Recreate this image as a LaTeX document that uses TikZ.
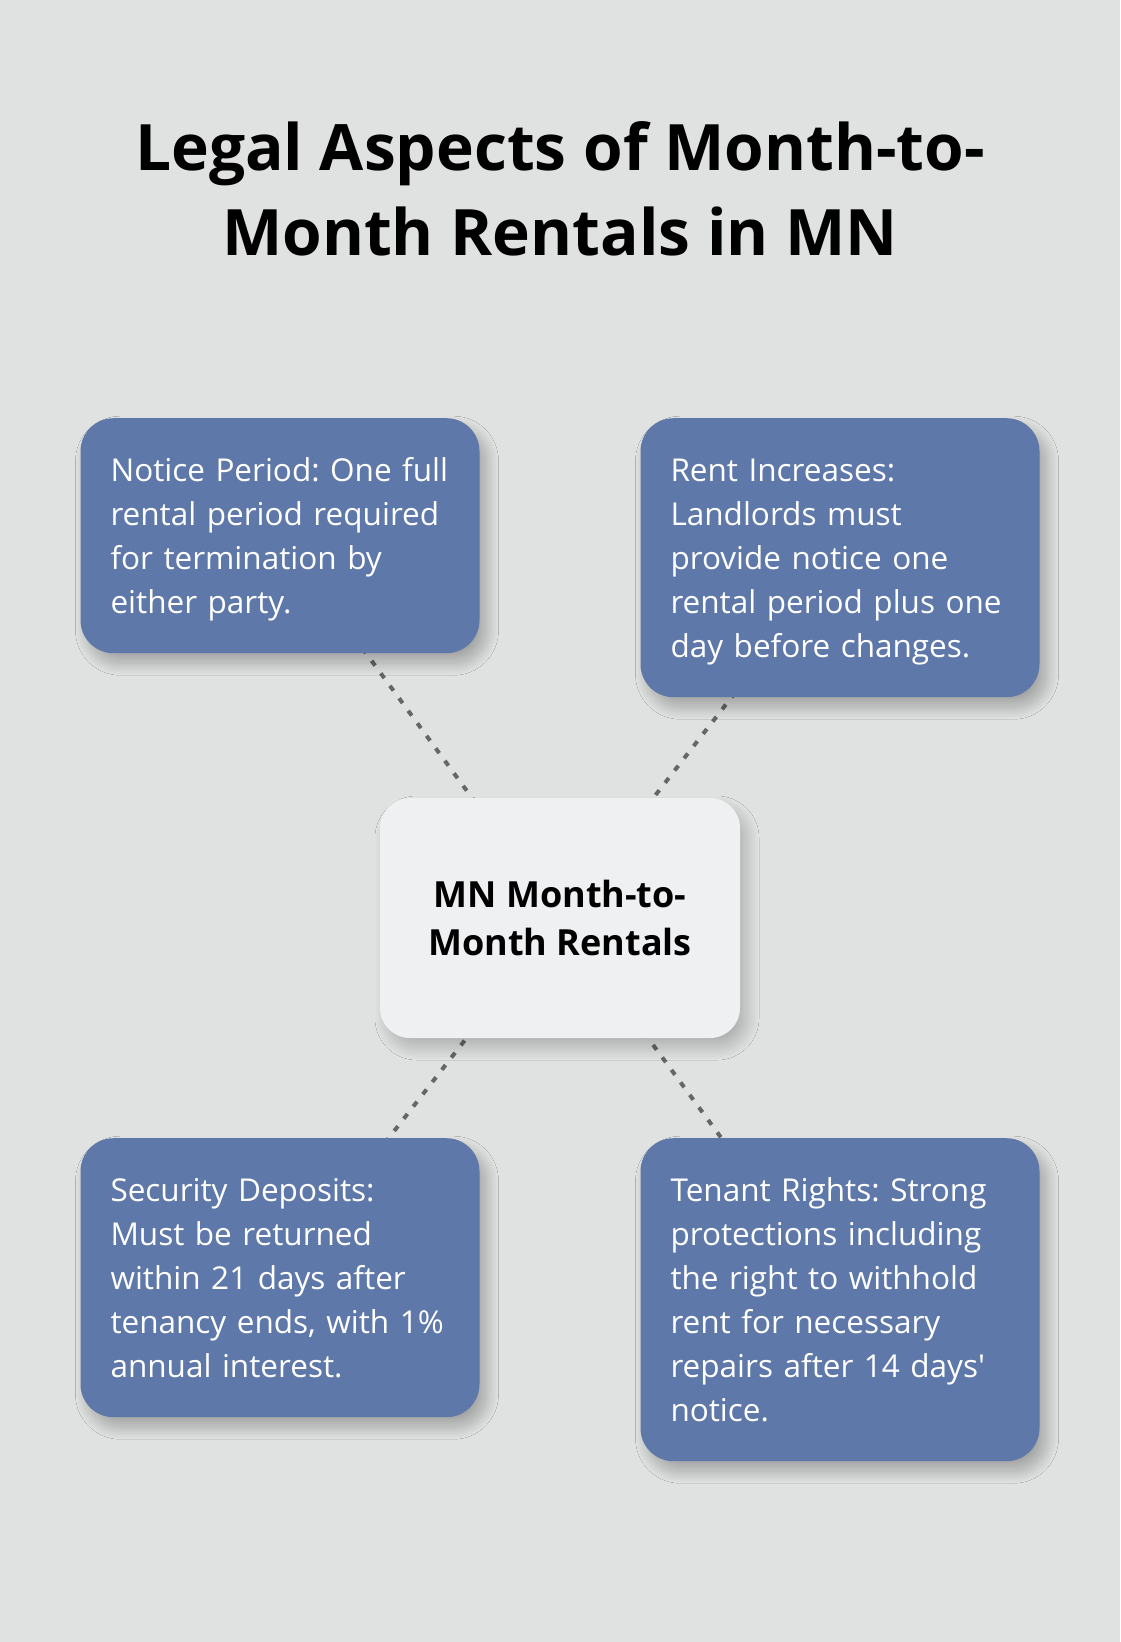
\documentclass[tikz,border=0pt]{standalone}
\usepackage{fontspec}
\setmainfont{Open Sans}
\usetikzlibrary{positioning,backgrounds,shadows.blur}

\definecolor{pagebg}{HTML}{E0E2E1}
\definecolor{cardblue}{HTML}{5E78A9}
\definecolor{hubfill}{HTML}{EFF0F2}
\definecolor{linkgray}{HTML}{666666}
\newcommand{\cardstrut}{\rule[-10pt]{0pt}{44pt}}

\begin{document}
\frenchspacing
\begin{tikzpicture}[x=1pt,y=-1pt,
  card/.style={fill=cardblue, rounded corners=33pt, text=white,
    text width=339pt, align=left, inner xsep=30pt, inner ysep=29.5pt,
    anchor=north, font=\fontsize{31.5}{44}\selectfont,
    execute at begin node=\cardstrut, execute at end node=\cardstrut,
    blur shadow={shadow xshift=7pt, shadow yshift=-10pt,
      shadow blur radius=12pt, shadow blur steps=30, shadow opacity=28}},
  hub/.style={fill=hubfill, rounded corners=30pt, minimum width=360pt,
    minimum height=240pt, align=center,
    font=\fontsize{36}{48}\selectfont\bfseries,
    blur shadow={shadow xshift=7pt, shadow yshift=-10pt,
      shadow blur radius=12pt, shadow blur steps=30, shadow opacity=22}},
  link/.style={draw=linkgray, line width=4pt, dash pattern=on 6pt off 9.5pt}]

\useasboundingbox (0,0) rectangle (1120,1642);

% title
\node[align=center, inner sep=0pt, font=\fontsize{64}{85}\selectfont\bfseries]
  (title) at (560,189) {Legal Aspects of Month-to-\\Month Rentals in MN};

% hub
\node[hub] (mn) at (560,918) {MN Month-to-\\Month Rentals};

% cards
\node[card] (notice) at (280,418)
  {Notice Period: One full\\rental period required\\for termination by\\either party.};
\node[card] (rent) at (840,418)
  {Rent Increases:\\Landlords must\\provide notice one\\rental period plus one\\day before changes.};
\node[card] (deposit) at (280,1138)
  {Security Deposits:\\Must be returned\\within 21 days after\\tenancy ends, with 1\%\\annual interest.};
\node[card] (rights) at (840,1138)
  {Tenant Rights: Strong\\protections including\\the right to withhold\\rent for necessary\\repairs after 14 days\textquotesingle\\notice.};

\begin{scope}[on background layer]
\fill[pagebg] (0,0) rectangle (1120,1642);
\draw[link] (notice.center) -- (mn.center);
\draw[link] (rent.center) -- (mn.center);
\draw[link] (deposit.center) -- (mn.center);
\draw[link] (rights.center) -- (mn.center);
\end{scope}

\end{tikzpicture}
\end{document}
